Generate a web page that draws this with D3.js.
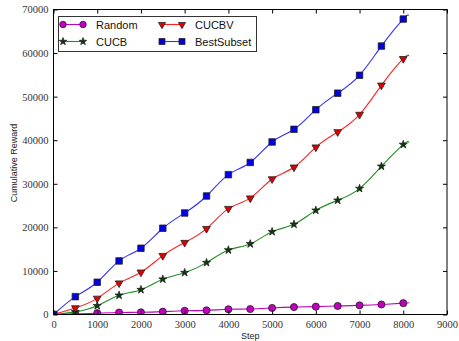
<!DOCTYPE html>
<html>
<head>
<meta charset="utf-8">
<script src="https://cdn.jsdelivr.net/npm/d3@7"></script>
<style>
  body { margin: 0; background: #fff; }
  svg { display: block; }
</style>
</head>
<body>
<div id="chart"></div>
<script>
// data

var steps = [0,500,1000,1500,2000,2500,3000,3500,4000,4500,5000,5500,6000,6500,7000,7500,8000]
var randomVals = [0,150,300,450,500,650,850,950,1200,1250,1500,1700,1800,1950,2100,2300,2600]
var cucbVals = [0,600,2000,4400,5700,8100,9600,11900,14800,16200,19000,20700,23900,26200,28900,34000,39000]
var cucbvVals = [0,1500,3700,7200,9700,13500,16500,19700,24300,26700,31100,33800,38400,41900,45900,52600,58700]
var bestVals = [0,4100,7400,12300,15200,19800,23300,27200,32100,34900,39600,42500,47000,50800,54900,61600,67800]

// the lines run a little past the last marker
var endStep = 8130
var endVals = {Random: 2700, CUCB: 39500, CUCBV: 59300, BestSubset: 68600}

var xTicks = [0,1000,2000,3000,4000,5000,6000,7000,8000,9000]
var yTicks = [0,10000,20000,30000,40000,50000,60000,70000]

var series = [
    {name: "Random", vals: randomVals, color: "#bf00bf", fill: "#bf00bf", marker: "circle"},
    {name: "CUCB", vals: cucbVals, color: "#1f8f1f", fill: "#0a3a0a", marker: "star"},
    {name: "CUCBV", vals: cucbvVals, color: "#ff2020", fill: "#e00000", marker: "tri"},
    {name: "BestSubset", vals: bestVals, color: "#3030ff", fill: "#0000e0", marker: "square"}
]

//setup SVG

var w = 459
var h = 341
var margin = {left: 53.5, right: 12, top: 9.5, bottom: 26.5}

var svg = d3.select("#chart")
    .append("svg")
    .attr("width", w)
    .attr("height", h)

var x = d3.scaleLinear().domain([0, 9000]).range([margin.left, w - margin.right])
var y = d3.scaleLinear().domain([0, 70000]).range([h - margin.bottom, margin.top])

// clip so markers at the edges get cut like the original
svg.append("clipPath").attr("id", "plotclip")
    .append("rect")
    .attr("x", margin.left).attr("y", margin.top)
    .attr("width", w - margin.right - margin.left)
    .attr("height", h - margin.bottom - margin.top)

var plot = svg.append("g").attr("clip-path", "url(#plotclip)")

var line = d3.line()
    .x(function(d){ return x(d[0]) })
    .y(function(d){ return y(d[1]) })
    .curve(d3.curveNatural)

function markerPath(type, size){
    var sym
    if(type == "circle") sym = d3.symbolCircle
    else if(type == "star") sym = d3.symbolStar
    else if(type == "square") sym = d3.symbolSquare
    else sym = d3.symbolTriangle
    return d3.symbol().type(sym).size(size)()
}

var markerSize = {circle: 40, star: 20, square: 42, tri: 26}

series.forEach(function(s){
    var pts = steps.map(function(st, i){ return [st, s.vals[i]] })
    pts.push([endStep, endVals[s.name]])

    plot.append("path")
        .attr("d", line(pts))
        .attr("fill", "none")
        .attr("stroke", s.color)
        .attr("stroke-width", 1.1)

    plot.selectAll(".m-" + s.name)
        .data(steps)
        .enter()
        .append("path")
        .attr("class", "m-" + s.name)
        .attr("d", markerPath(s.marker, markerSize[s.marker]))
        .attr("transform", function(d, i){
            var rot = s.marker == "tri" ? " rotate(180)" : ""
            return "translate(" + x(d) + "," + y(s.vals[i]) + ")" + rot
        })
        .attr("fill", s.fill)
        .attr("stroke", "#222")
        .attr("stroke-width", 0.8)
})

// axes, ticks pointing inward on all four sides

var tickFont = "'Liberation Serif', serif"

var xAxis = svg.append("g")
    .attr("transform", "translate(0," + (h - margin.bottom) + ")")
    .call(d3.axisBottom(x).tickValues(xTicks).tickSizeInner(-4).tickSizeOuter(0).tickPadding(6).tickFormat(d3.format("d")))
var xAxisTop = svg.append("g")
    .attr("transform", "translate(0," + margin.top + ")")
    .call(d3.axisTop(x).tickValues(xTicks).tickSizeInner(-4).tickSizeOuter(0).tickFormat(""))
var yAxis = svg.append("g")
    .attr("transform", "translate(" + margin.left + ",0)")
    .call(d3.axisLeft(y).tickValues(yTicks).tickSizeInner(-4).tickSizeOuter(0).tickPadding(5).tickFormat(d3.format("d")))
var yAxisRight = svg.append("g")
    .attr("transform", "translate(" + (w - margin.right) + ",0)")
    .call(d3.axisRight(y).tickValues(yTicks).tickSizeInner(-4).tickSizeOuter(0).tickFormat(""))

svg.selectAll(".domain").remove()
svg.selectAll(".tick line").attr("stroke", "#000")
svg.selectAll(".tick text")
    .attr("font-family", tickFont)
    .attr("font-size", "10.5px")
    .attr("fill", "#333")

svg.append("rect")
    .attr("x", margin.left).attr("y", margin.top)
    .attr("width", w - margin.right - margin.left)
    .attr("height", h - margin.bottom - margin.top)
    .attr("fill", "none")
    .attr("stroke", "#000")
    .attr("stroke-width", 1)

// axis titles

svg.append("text")
    .attr("x", (margin.left + w - margin.right) / 2)
    .attr("y", 339)
    .attr("text-anchor", "middle")
    .attr("font-family", "'Liberation Sans', Arial, sans-serif")
    .attr("font-size", "9px")
    .attr("fill", "#222")
    .text("Step")

svg.append("text")
    .attr("transform", "translate(17,163) rotate(-90)")
    .attr("text-anchor", "middle")
    .attr("font-family", "'Liberation Sans', Arial, sans-serif")
    .attr("font-size", "9px")
    .attr("fill", "#222")
    .text("Cumulative Reward")

// legend

var legend = svg.append("g")

legend.append("rect")
    .attr("x", 58.5).attr("y", 16.5)
    .attr("width", 198).attr("height", 35)
    .attr("fill", "#fff")
    .attr("stroke", "#333")
    .attr("stroke-width", 1)

var legendPos = [[63, 24.5], [63, 41.5], [162, 24.5], [162, 41.5]]

series.forEach(function(s, i){
    var p = legendPos[i]
    legend.append("line")
        .attr("x1", p[0]).attr("x2", p[0] + 20)
        .attr("y1", p[1]).attr("y2", p[1])
        .attr("stroke", s.color)
        .attr("stroke-width", 1.1)
    ;[p[0], p[0] + 20].forEach(function(mx){
        legend.append("path")
            .attr("d", markerPath(s.marker, markerSize[s.marker] * 0.85))
            .attr("transform", "translate(" + mx + "," + p[1] + ")" + (s.marker == "tri" ? " rotate(180)" : ""))
            .attr("fill", s.fill)
            .attr("stroke", "#222")
            .attr("stroke-width", 0.8)
    })
    legend.append("text")
        .attr("x", p[0] + 33)
        .attr("y", p[1] + 4)
        .attr("font-family", "'Liberation Sans', Arial, sans-serif")
        .attr("font-size", "11px")
        .attr("fill", "#111")
        .text(s.name)
})
</script>
</body>
</html>
